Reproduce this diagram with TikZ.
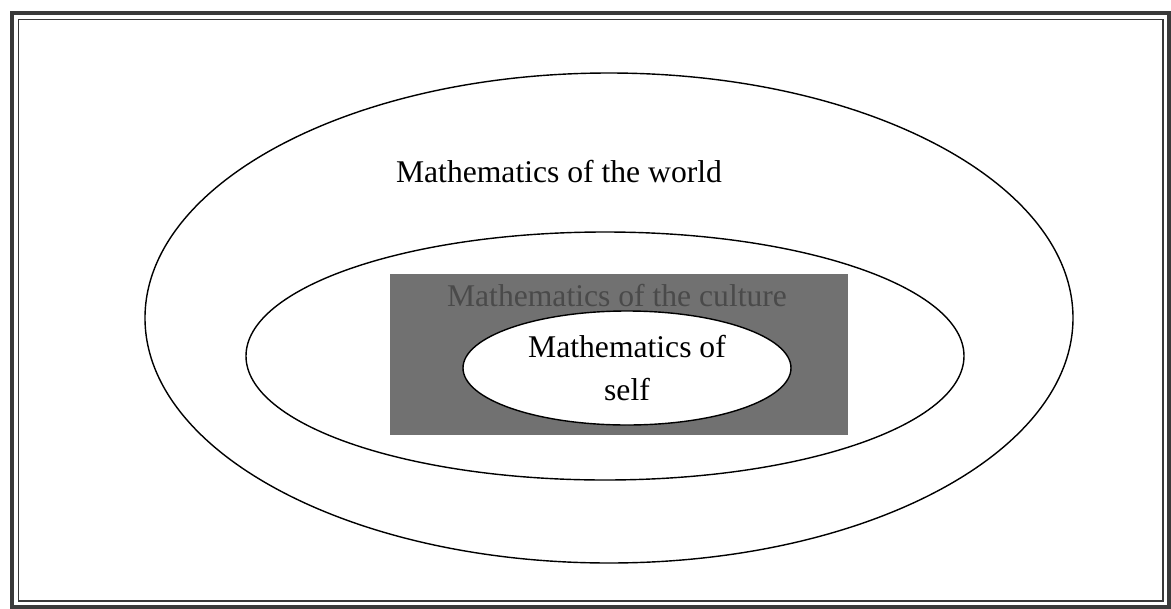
\documentclass[tikz,border=0pt]{standalone}
\usepackage{fontspec}
\setmainfont{Liberation Serif}
\usepackage{xcolor}
\usepackage{tikz}
\usetikzlibrary{positioning}
\definecolor{Frame}  {HTML}{3A3A3A}
\definecolor{Culture}{HTML}{717171}
\definecolor{Faded} {HTML}{4A4A4A}

\begin{document}
\begin{tikzpicture}[x=0.02cm, y=-0.02cm,
    ring/.style={draw=black, line width=0.8pt},
    label/.style={font=\fontsize{18}{22}\selectfont, align=center, inner sep=0pt}]
  \useasboundingbox (0,0) rectangle (1171,609);
  % Double frame
  \draw[Frame, line width=1.8pt] (12,13) rectangle (1169,607);
  \draw[Frame, line width=1.0pt] (18.5,19.5) rectangle (1163,601);
  % Nested regions
  \draw[ring, fill=white]  (609,318) ellipse (464 and 245);
  \draw[ring, fill=white]  (605,356) ellipse (359 and 124);
  \fill[color=Culture]     (390,274) rectangle (848,435);
  \draw[ring, fill=white]  (627,368) ellipse (164 and 57);
  % Labels
  \node[label]              (world)   at (559,172) {Mathematics of the world};
  \node[label, text=Faded]  (culture) at (617,296) {Mathematics of the culture};
  \node[label]              (self)    at (627,368) {Mathematics of\\[2pt]self};
\end{tikzpicture}
\end{document}
